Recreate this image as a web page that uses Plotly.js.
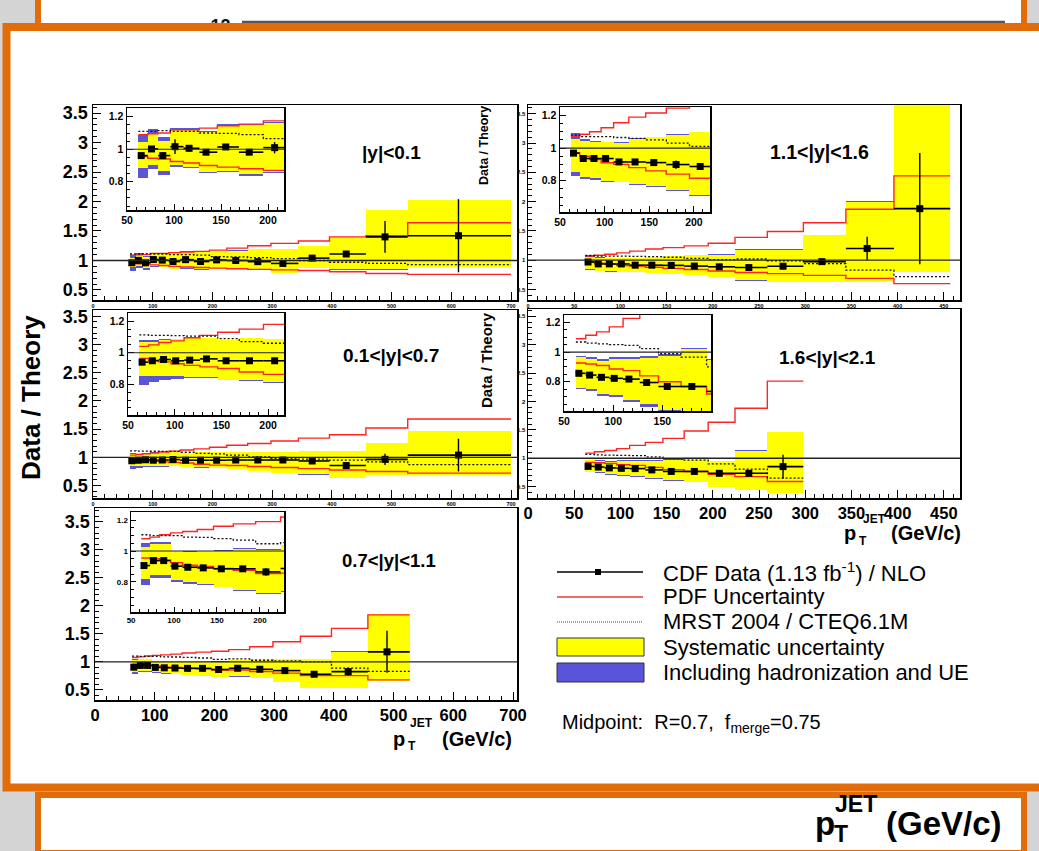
<!DOCTYPE html>
<html>
<head>
<meta charset="utf-8">
<script src="https://cdn.plot.ly/plotly-3.0.1.min.js"></script>
<style>
  html, body { margin: 0; padding: 0; background: #d4d4d4; }
  #chart { width: 1039px; height: 851px; }
</style>
</head>
<body>
<div id="chart"></div>
<script>
// ---------------------------------------------------------------------------
// CDF Run II inclusive jet cross section (Midpoint, R=0.7): Data / NLO theory
// ---------------------------------------------------------------------------

// pT bin edges and mean pT of each bin (GeV/c)
const binEdges = [62, 72, 83, 96, 110, 127, 146, 169, 195, 224, 259, 298, 344, 396, 457, 527, 700];
const binPt    = [65, 76, 88, 101, 116, 134, 155, 180, 207, 239, 276, 318, 367, 424, 489, 612];

// ---- |y| < 0.1 ----
const y01Ratio = [0.961, 1.002, 0.961, 1.016, 1.006, 0.982, 1.014, 0.982, 1.010, 1.00, 0.98, 0.95, 1.04, 1.11, 1.40, 1.42];
const y01Stat  = [0.012, 0.015, 0.02, 0.045, 0.02, 0.015, 0.01, 0.015, 0.035, 0.02, 0.015, 0.02, 0.03, 0.05, 0.27, 0.62];
const y01SysHi = [1.047, 1.099, 1.053, 1.123, 1.123, 1.109, 1.15, 1.15, 1.164, 1.166, 1.19, 1.20, 1.25, 1.40, 1.86, 2.03];
const y01SysLo = [0.883, 0.903, 0.869, 0.903, 0.893, 0.862, 0.866, 0.848, 0.862, 0.868, 0.84, 0.79, 0.87, 0.85, 0.85, 0.89];
const y01HadHi = [1.088, 1.123, 1.074, 1.13, 1.13, 1.115, 1.155, 1.155, 1.168, 1.17, 1.193, 1.203, 1.253, 1.403, 1.863, 2.033];
const y01HadLo = [0.82, 0.877, 0.842, 0.893, 0.883, 0.852, 0.86, 0.836, 0.855, 0.862, 0.835, 0.786, 0.866, 0.846, 0.846, 0.886];
const y01PdfHi = [1.09, 1.095, 1.10, 1.12, 1.12, 1.13, 1.145, 1.155, 1.175, 1.21, 1.25, 1.29, 1.33, 1.40, 1.42, 1.64];
const y01PdfLo = [0.955, 0.945, 0.94, 0.925, 0.915, 0.90, 0.89, 0.88, 0.87, 0.86, 0.85, 0.84, 0.83, 0.81, 0.78, 0.765];
const y01Mrst  = [1.11, 1.11, 1.115, 1.11, 1.11, 1.10, 1.098, 1.09, 1.065, 1.06, 1.05, 1.03, 1.0, 0.97, 0.95, 0.93];

// ---- 0.1 < |y| < 0.7 ----
const y07Ratio = [0.94, 0.949, 0.957, 0.949, 0.953, 0.961, 0.949, 0.949, 0.949, 0.953, 0.953, 0.953, 0.936, 0.855, 0.965, 1.04];
const y07Stat  = [0.008, 0.008, 0.008, 0.008, 0.008, 0.008, 0.008, 0.01, 0.01, 0.015, 0.015, 0.02, 0.03, 0.04, 0.10, 0.29];
const y07SysHi = [1.066, 1.07, 1.081, 1.086, 1.092, 1.092, 1.08, 1.092, 1.088, 1.087, 1.10, 1.10, 1.116, 1.116, 1.256, 1.465];
const y07SysLo = [0.85, 0.85, 0.85, 0.85, 0.846, 0.846, 0.83, 0.824, 0.814, 0.79, 0.76, 0.73, 0.70, 0.64, 0.69, 0.69];
const y07HadHi = [1.081, 1.081, 1.085, 1.09, 1.095, 1.095, 1.083, 1.095, 1.09, 1.09, 1.103, 1.103, 1.119, 1.119, 1.259, 1.468];
const y07HadLo = [0.797, 0.814, 0.824, 0.835, 0.838, 0.84, 0.825, 0.82, 0.81, 0.786, 0.756, 0.726, 0.696, 0.636, 0.686, 0.686];
const y07PdfHi = [1.04, 1.05, 1.065, 1.075, 1.095, 1.11, 1.13, 1.15, 1.18, 1.215, 1.245, 1.29, 1.34, 1.40, 1.52, 1.68];
const y07PdfLo = [0.964, 0.953, 0.942, 0.93, 0.92, 0.91, 0.90, 0.878, 0.863, 0.855, 0.837, 0.82, 0.80, 0.775, 0.75, 0.72];
const y07Mrst  = [1.113, 1.11, 1.11, 1.108, 1.105, 1.105, 1.09, 1.07, 1.06, 1.04, 1.01, 0.98, 0.97, 0.95, 0.92, 0.87];

// ---- 0.7 < |y| < 1.1 ----
const y11Ratio = [0.906, 0.938, 0.938, 0.902, 0.895, 0.891, 0.885, 0.885, 0.865, 0.887, 0.869, 0.845, 0.78, 0.827, 1.18];
const y11Stat  = [0.01, 0.01, 0.01, 0.01, 0.01, 0.01, 0.01, 0.012, 0.025, 0.015, 0.015, 0.02, 0.03, 0.07, 0.375];
const y11SysHi = [1.026, 1.047, 1.047, 1.0, 0.995, 0.997, 1.0, 1.015, 1.005, 1.036, 1.054, 1.054, 1.054, 1.185, 1.857];
const y11SysLo = [0.818, 0.844, 0.844, 0.812, 0.797, 0.784, 0.77, 0.748, 0.727, 0.74, 0.71, 0.65, 0.54, 0.54, 0.667];
const y11HadHi = [1.055, 1.06, 1.06, 1.003, 1.0, 1.002, 1.004, 1.02, 1.01, 1.04, 1.057, 1.057, 1.057, 1.188, 1.86];
const y11HadLo = [0.78, 0.823, 0.823, 0.80, 0.79, 0.778, 0.765, 0.744, 0.723, 0.736, 0.706, 0.646, 0.536, 0.536, 0.663];
const y11PdfHi = [1.079, 1.09, 1.105, 1.117, 1.126, 1.139, 1.16, 1.175, 1.19, 1.22, 1.27, 1.36, 1.46, 1.60, 1.84];
const y11PdfLo = [0.955, 0.95, 0.94, 0.925, 0.908, 0.90, 0.887, 0.876, 0.855, 0.857, 0.83, 0.80, 0.756, 0.756, 0.68];
const y11Mrst  = [1.105, 1.10, 1.10, 1.10, 1.09, 1.088, 1.08, 1.07, 1.047, 1.054, 1.03, 1.02, 1.0, 0.89, 0.83];

// ---- 1.1 < |y| < 1.6 ----
const y16Ratio = [0.969, 0.936, 0.936, 0.936, 0.915, 0.915, 0.911, 0.899, 0.887, 0.874, 0.897, 0.975, 1.20, 1.88];
const y16Stat  = [0.008, 0.008, 0.008, 0.01, 0.01, 0.01, 0.01, 0.025, 0.015, 0.02, 0.05, 0.02, 0.20, 0.95];
const y16SysHi = [1.056, 1.041, 1.04, 1.035, 1.03, 1.056, 1.068, 1.082, 1.097, 1.18, 1.18, 1.43, 2.0, 3.9];
const y16SysLo = [0.856, 0.82, 0.814, 0.80, 0.794, 0.78, 0.767, 0.742, 0.711, 0.655, 0.63, 0.63, 0.63, 0.80];
const y16HadHi = [1.093, 1.056, 1.045, 1.04, 1.035, 1.06, 1.071, 1.085, 1.10, 1.183, 1.183, 1.433, 2.003, 3.9];
const y16HadLo = [0.83, 0.81, 0.806, 0.794, 0.79, 0.776, 0.764, 0.739, 0.708, 0.652, 0.627, 0.627, 0.627, 0.797];
const y16PdfHi = [1.07, 1.085, 1.10, 1.125, 1.155, 1.19, 1.215, 1.245, 1.29, 1.39, 1.49, 1.64, 1.87, 2.44];
const y16PdfLo = [0.97, 0.95, 0.93, 0.91, 0.90, 0.88, 0.86, 0.84, 0.815, 0.79, 0.77, 0.74, 0.69, 0.60];
const y16Mrst  = [1.08, 1.07, 1.07, 1.07, 1.065, 1.06, 1.05, 1.03, 1.01, 1.02, 0.99, 0.94, 0.83, 0.72];

// ---- 1.6 < |y| < 2.1 ----
const y21Ratio = [0.857, 0.845, 0.83, 0.823, 0.818, 0.795, 0.768, 0.768, 0.735, 0.735, 0.853];
const y21Stat  = [0.008, 0.008, 0.008, 0.008, 0.01, 0.01, 0.02, 0.01, 0.05, 0.05, 0.21];
const y21SysHi = [0.966, 0.955, 0.943, 0.955, 0.955, 0.96, 0.977, 1.023, 0.95, 1.135, 1.46];
const y21SysLo = [0.761, 0.75, 0.72, 0.71, 0.68, 0.648, 0.61, 0.59, 0.50, 0.44, 0.39];
const y21HadHi = [0.977, 0.966, 0.955, 0.966, 0.966, 0.971, 0.988, 1.03, 0.955, 1.138, 1.463];
const y21HadLo = [0.75, 0.738, 0.705, 0.695, 0.665, 0.63, 0.60, 0.585, 0.497, 0.437, 0.387];
const y21PdfHi = [1.09, 1.114, 1.136, 1.17, 1.227, 1.28, 1.35, 1.48, 1.635, 1.88, 2.36];
const y21PdfLo = [0.927, 0.92, 0.91, 0.886, 0.875, 0.84, 0.80, 0.768, 0.718, 0.676, 0.59];
const y21Mrst  = [1.068, 1.06, 1.055, 1.05, 1.045, 1.023, 0.989, 0.966, 0.90, 0.81, 0.65];

// Panel captions and legend texts
const rapidityLabels = ['|y|<0.1', '1.1<|y|<1.6', '0.1<|y|<0.7', '1.6<|y|<2.1', '0.7<|y|<1.1'];
const legendLabels = [
  'CDF Data (1.13 fb<sup>-1</sup>) / NLO',
  'PDF Uncertainty',
  'MRST 2004 / CTEQ6.1M',
  'Systematic uncertainty',
  'Including hadronization and UE'
];

// ---------------------------------------------------------------------------
const W = 1039, H = 851;
const FONT = 'Liberation Sans, Arial, Helvetica, sans-serif';
const ORANGE = '#e36c0a';
const YELLOW = '#ffff00';
const BLUE = '#5a55d8';
const RED = '#ff2424';

const dx = (a, b) => [a / W, b / W];
const dy = (top, bottom) => [1 - bottom / H, 1 - top / H];
const px = v => v / W;
const py = v => 1 - v / H;

const panels = [
  {ratio: y01Ratio, stat: y01Stat, sysHi: y01SysHi, sysLo: y01SysLo, hadHi: y01HadHi, hadLo: y01HadLo, pdfHi: y01PdfHi, pdfLo: y01PdfLo, mrst: y01Mrst},
  {ratio: y16Ratio, stat: y16Stat, sysHi: y16SysHi, sysLo: y16SysLo, hadHi: y16HadHi, hadLo: y16HadLo, pdfHi: y16PdfHi, pdfLo: y16PdfLo, mrst: y16Mrst},
  {ratio: y07Ratio, stat: y07Stat, sysHi: y07SysHi, sysLo: y07SysLo, hadHi: y07HadHi, hadLo: y07HadLo, pdfHi: y07PdfHi, pdfLo: y07PdfLo, mrst: y07Mrst},
  {ratio: y21Ratio, stat: y21Stat, sysHi: y21SysHi, sysLo: y21SysLo, hadHi: y21HadHi, hadLo: y21HadLo, pdfHi: y21PdfHi, pdfLo: y21PdfLo, mrst: y21Mrst},
  {ratio: y11Ratio, stat: y11Stat, sysHi: y11SysHi, sysLo: y11SysLo, hadHi: y11HadHi, hadLo: y11HadLo, pdfHi: y11PdfHi, pdfLo: y11PdfLo, mrst: y11Mrst}
];

function panelTraces(p, xa, ya, msize) {
  const n = p.ratio.length;
  const edges = binEdges.slice(0, n + 1);
  const ctr = [], wid = [];
  for (let i = 0; i < n; i++) {
    ctr.push((edges[i] + edges[i + 1]) / 2);
    wid.push(edges[i + 1] - edges[i]);
  }
  const step = a => a.concat([a[n - 1]]);
  const pt = binPt.slice(0, n);
  const common = {xaxis: xa, yaxis: ya, hoverinfo: 'skip', showlegend: false};
  return [
    Object.assign({type: 'bar', x: ctr, width: wid, base: p.hadLo,
      y: p.hadHi.map((v, i) => v - p.hadLo[i]),
      marker: {color: BLUE, line: {width: 0}}}, common),
    Object.assign({type: 'bar', x: ctr, width: wid, base: p.sysLo,
      y: p.sysHi.map((v, i) => v - p.sysLo[i]),
      marker: {color: YELLOW, line: {width: 0}}}, common),
    Object.assign({type: 'scatter', mode: 'lines', x: edges, y: step(p.pdfHi),
      line: {shape: 'hv', color: RED, width: 1.4}}, common),
    Object.assign({type: 'scatter', mode: 'lines', x: edges, y: step(p.pdfLo),
      line: {shape: 'hv', color: RED, width: 1.4}}, common),
    Object.assign({type: 'scatter', mode: 'lines', x: edges, y: step(p.mrst),
      line: {shape: 'hv', color: '#111', width: 1.3, dash: '2px,2px'}}, common),
    Object.assign({type: 'scatter', mode: 'markers', x: pt, y: p.ratio,
      marker: {symbol: 'square', size: msize, color: '#000'},
      error_y: {type: 'data', array: p.stat, visible: true, color: '#000', thickness: 1.4, width: 0},
      error_x: {type: 'data', symmetric: false,
        array: pt.map((v, i) => edges[i + 1] - v),
        arrayminus: pt.map((v, i) => v - edges[i]),
        visible: true, color: '#000', thickness: 1.6, width: 0}}, common)
  ];
}

// subplot ids: main panels 1..5, insets 6..10
const traces = [];
panels.forEach((p, k) => {
  const m = k + 1, ins = k + 6;
  traces.push(...panelTraces(p, m === 1 ? 'x' : 'x' + m, m === 1 ? 'y' : 'y' + m, 7));
  traces.push(...panelTraces(p, 'x' + ins, 'y' + ins, 7));
});

function ax(o) {
  const base = {
    showline: true, linecolor: '#000', linewidth: 1.5, mirror: true,
    ticks: 'inside', ticklen: 8, tickwidth: 1, tickcolor: '#000',
    showgrid: false, zeroline: false, fixedrange: true,
    tickfont: {family: FONT, size: 6, color: '#000', weight: 'bold'}
  };
  return Object.assign(base, o);
}
function minor(d, len) {
  return {dtick: d, ticklen: len, tickcolor: '#000', tickwidth: 1, ticks: 'inside', showgrid: false};
}
const bigTick = {family: FONT, size: 18, color: '#000', weight: 'bold'};
const tinyTick = {family: FONT, size: 5.5, color: '#000', weight: 'bold'};
const sideTick = {family: FONT, size: 6, color: '#000', weight: 'bold'};
const axisTick = {family: FONT, size: 16.5, color: '#000', weight: 'bold'};
const insetTick = {family: FONT, size: 10.5, color: '#000', weight: 'bold'};
const insetTickSmall = {family: FONT, size: 8, color: '#000', weight: 'bold'};

const layout = {
  width: W, height: H,
  margin: {l: 0, r: 0, t: 0, b: 0, pad: 0},
  paper_bgcolor: '#d4d4d4',
  plot_bgcolor: '#ffffff',
  showlegend: false,
  barmode: 'overlay',
  bargap: 0,
  // main panels
  xaxis:  ax({domain: dx(93, 517), range: [0, 710], dtick: 100, tick0: 0, minor: minor(20, 4), anchor: 'y', tickfont: tinyTick}),
  yaxis:  ax({domain: dy(105, 300), range: [0.33, 3.636], dtick: 0.5, tick0: 0, minor: minor(0.1, 4), anchor: 'x', tickfont: bigTick}),
  xaxis2: ax({domain: dx(528, 960), range: [0, 467.5], dtick: 50, tick0: 0, minor: minor(10, 4), anchor: 'y2', tickfont: tinyTick}),
  yaxis2: ax({domain: dy(105, 300), range: [0.32, 3.65], dtick: 0.5, tick0: 0, minor: minor(0.1, 4), anchor: 'x2', tickfont: sideTick}),
  xaxis3: ax({domain: dx(93, 517), range: [0, 710], dtick: 100, tick0: 0, minor: minor(20, 4), anchor: 'y3', tickfont: tinyTick}),
  yaxis3: ax({domain: dy(310, 498), range: [0.28, 3.61], dtick: 0.5, tick0: 0, minor: minor(0.1, 4), anchor: 'x3', tickfont: bigTick}),
  xaxis4: ax({domain: dx(528, 960), range: [0, 467.5], dtick: 50, tick0: 0, minor: minor(10, 4), anchor: 'y4', tickfont: axisTick}),
  yaxis4: ax({domain: dy(309, 498), range: [0.30, 3.63], dtick: 0.5, tick0: 0, minor: minor(0.1, 4), anchor: 'x4', tickfont: sideTick}),
  xaxis5: ax({domain: dx(95, 517), range: [0, 706.7], dtick: 100, tick0: 0, minor: minor(20, 4), anchor: 'y5', tickfont: axisTick}),
  yaxis5: ax({domain: dy(508, 700), range: [0.32, 3.75], dtick: 0.5, tick0: 0, minor: minor(0.1, 4), anchor: 'x5', tickfont: bigTick}),
  // insets (low-pT zoom)
  xaxis6:  ax({domain: dx(127, 284), range: [49.9, 217], dtick: 50, tick0: 0, minor: minor(10, 3), ticklen: 6, anchor: 'y6', tickfont: insetTick}),
  yaxis6:  ax({domain: dy(108, 210), range: [0.626, 1.254], dtick: 0.2, tick0: 0, minor: minor(0.05, 3), ticklen: 6, anchor: 'x6', tickfont: insetTick}),
  xaxis7:  ax({domain: dx(560, 710), range: [49.9, 218], dtick: 50, tick0: 0, minor: minor(10, 3), ticklen: 6, anchor: 'y7', tickfont: insetTick}),
  yaxis7:  ax({domain: dy(107, 212), range: [0.608, 1.252], dtick: 0.2, tick0: 0, minor: minor(0.05, 3), ticklen: 6, anchor: 'x7', tickfont: insetTick}),
  xaxis8:  ax({domain: dx(128, 284), range: [49.9, 217], dtick: 50, tick0: 0, minor: minor(10, 3), ticklen: 6, anchor: 'y8', tickfont: insetTick}),
  yaxis8:  ax({domain: dy(313, 415), range: [0.605, 1.252], dtick: 0.2, tick0: 0, minor: minor(0.05, 3), ticklen: 6, anchor: 'x8', tickfont: insetTick}),
  xaxis9:  ax({domain: dx(564, 711), range: [49.9, 199.5], dtick: 50, tick0: 0, minor: minor(10, 3), ticklen: 6, anchor: 'y9', tickfont: insetTick}),
  yaxis9:  ax({domain: dy(315, 411), range: [0.603, 1.25], dtick: 0.2, tick0: 0, minor: minor(0.05, 3), ticklen: 6, anchor: 'x9', tickfont: insetTick}),
  xaxis10: ax({domain: dx(131, 284), range: [49.9, 228], dtick: 50, tick0: 0, minor: minor(10, 3), ticklen: 5, anchor: 'y10', tickfont: insetTickSmall}),
  yaxis10: ax({domain: dy(512, 612), range: [0.606, 1.252], dtick: 0.2, tick0: 0, minor: minor(0.05, 3), ticklen: 5, anchor: 'x10', tickfont: insetTickSmall}),
  shapes: [],
  annotations: []
};

// slide frames
const S = layout.shapes;
S.push({type: 'rect', xref: 'paper', yref: 'paper', layer: 'below',
  x0: px(38), x1: px(1024), y0: py(-4), y1: py(40),
  line: {color: ORANGE, width: 6}, fillcolor: '#ffffff'});
S.push({type: 'rect', xref: 'paper', yref: 'paper', layer: 'below',
  x0: px(205), x1: px(236), y0: py(12), y1: py(36),
  line: {width: 0}, fillcolor: 'rgba(0,0,0,0)',
  label: {text: '12', font: {family: FONT, size: 18, color: '#111', weight: 'bold'}, textposition: 'middle center'}});
S.push({type: 'line', xref: 'paper', yref: 'paper', layer: 'below',
  x0: px(242), x1: px(1005), y0: py(22), y1: py(22), line: {color: '#555555', width: 2.5}});
S.push({type: 'rect', xref: 'paper', yref: 'paper', layer: 'below',
  x0: px(38), x1: px(1024), y0: py(795), y1: py(853),
  line: {color: ORANGE, width: 6}, fillcolor: '#ffffff'});
S.push({type: 'rect', xref: 'paper', yref: 'paper', layer: 'below',
  x0: px(6.5), x1: px(1050), y0: py(27), y1: py(787.5),
  line: {color: ORANGE, width: 8}, fillcolor: '#ffffff'});

// reference line at Data/Theory = 1 in every frame
for (let k = 1; k <= 10; k++) {
  const xr = (k === 1 ? 'x' : 'x' + k) + ' domain';
  const yr = k === 1 ? 'y' : 'y' + k;
  S.push({type: 'line', xref: xr, yref: yr, layer: 'above', x0: 0, x1: 1, y0: 1, y1: 1,
    line: {color: '#222', width: k <= 5 ? 1.3 : 1.2}});
}

// legend symbols
S.push({type: 'line', xref: 'paper', yref: 'paper', x0: px(557), x1: px(643), y0: py(572), y1: py(572), line: {color: '#000', width: 1.3}});
S.push({type: 'rect', xref: 'paper', yref: 'paper', x0: px(595), x1: px(601), y0: py(569), y1: py(575), line: {width: 0}, fillcolor: '#000'});
S.push({type: 'line', xref: 'paper', yref: 'paper', x0: px(557), x1: px(643), y0: py(597), y1: py(597), line: {color: '#f06a6a', width: 2}});
S.push({type: 'line', xref: 'paper', yref: 'paper', x0: px(557), x1: px(643), y0: py(622), y1: py(622), line: {color: '#444', width: 1, dash: '1px,1px'}});
S.push({type: 'rect', xref: 'paper', yref: 'paper', x0: px(557), x1: px(644), y0: py(656), y1: py(638), line: {color: '#333', width: 1}, fillcolor: YELLOW});
S.push({type: 'rect', xref: 'paper', yref: 'paper', x0: px(557), x1: px(644), y0: py(682), y1: py(663), line: {color: '#333', width: 1}, fillcolor: BLUE});

// text
const A = layout.annotations;
function txt(t, x, y, size, opts) {
  A.push(Object.assign({text: t, x: px(x), y: py(y), xref: 'paper', yref: 'paper',
    showarrow: false, xanchor: 'center', yanchor: 'middle',
    font: {family: FONT, size: size, color: '#000'}}, opts || {}));
}
const bold = (size) => ({font: {family: FONT, size: size, color: '#000', weight: 'bold'}});

txt(rapidityLabels[0], 391, 152, 19, bold(19));
txt(rapidityLabels[1], 819, 152, 19.5, bold(19.5));
txt(rapidityLabels[2], 391, 355, 19, bold(19));
txt(rapidityLabels[3], 827, 357, 19, bold(19));
txt(rapidityLabels[4], 389, 560, 18.5, bold(18.5));

txt('Data / Theory', 31, 398, 26, Object.assign({textangle: -90}, bold(26)));
txt('Data / Theory', 484, 146, 12.5, Object.assign({textangle: -90}, bold(12.5)));
txt('Data / Theory', 487, 360, 15, Object.assign({textangle: -90}, bold(15)));

// axis titles p_T^JET (GeV/c): p, superscript, subscript, unit
function ptTitle(t) {
  txt('p', t.px, t.y, t.s, bold(t.s));
  txt('JET', t.supX, t.supY, t.ss, Object.assign(bold(t.ss), {xanchor: 'left'}));
  txt('T', t.subX, t.subY, t.ss, Object.assign(bold(t.ss), {xanchor: 'left'}));
  txt('(GeV/c)', t.unitX, t.y, t.s, Object.assign(bold(t.s), {xanchor: 'left'}));
}
ptTitle({px: 399, y: 739, s: 20, ss: 12, supX: 408, supY: 723, subX: 406, subY: 746, unitX: 440});
ptTitle({px: 850, y: 533, s: 20, ss: 12, supX: 861, supY: 519, subX: 857, subY: 541, unitX: 889});
ptTitle({px: 825, y: 823, s: 33, ss: 23, supX: 833, supY: 804, subX: 832, subY: 834, unitX: 884});

// legend texts
const legY = [572, 596, 621, 647, 672];
legendLabels.forEach((t, i) => txt(t, 661, legY[i], 22, {xanchor: 'left'}));
txt('Midpoint:\u00a0 R=0.7,\u00a0 f<sub>merge</sub>=0.75', 560, 723, 20, {xanchor: 'left'});

Plotly.newPlot('chart', traces, layout, {staticPlot: true, displayModeBar: false});
</script>
</body>
</html>
